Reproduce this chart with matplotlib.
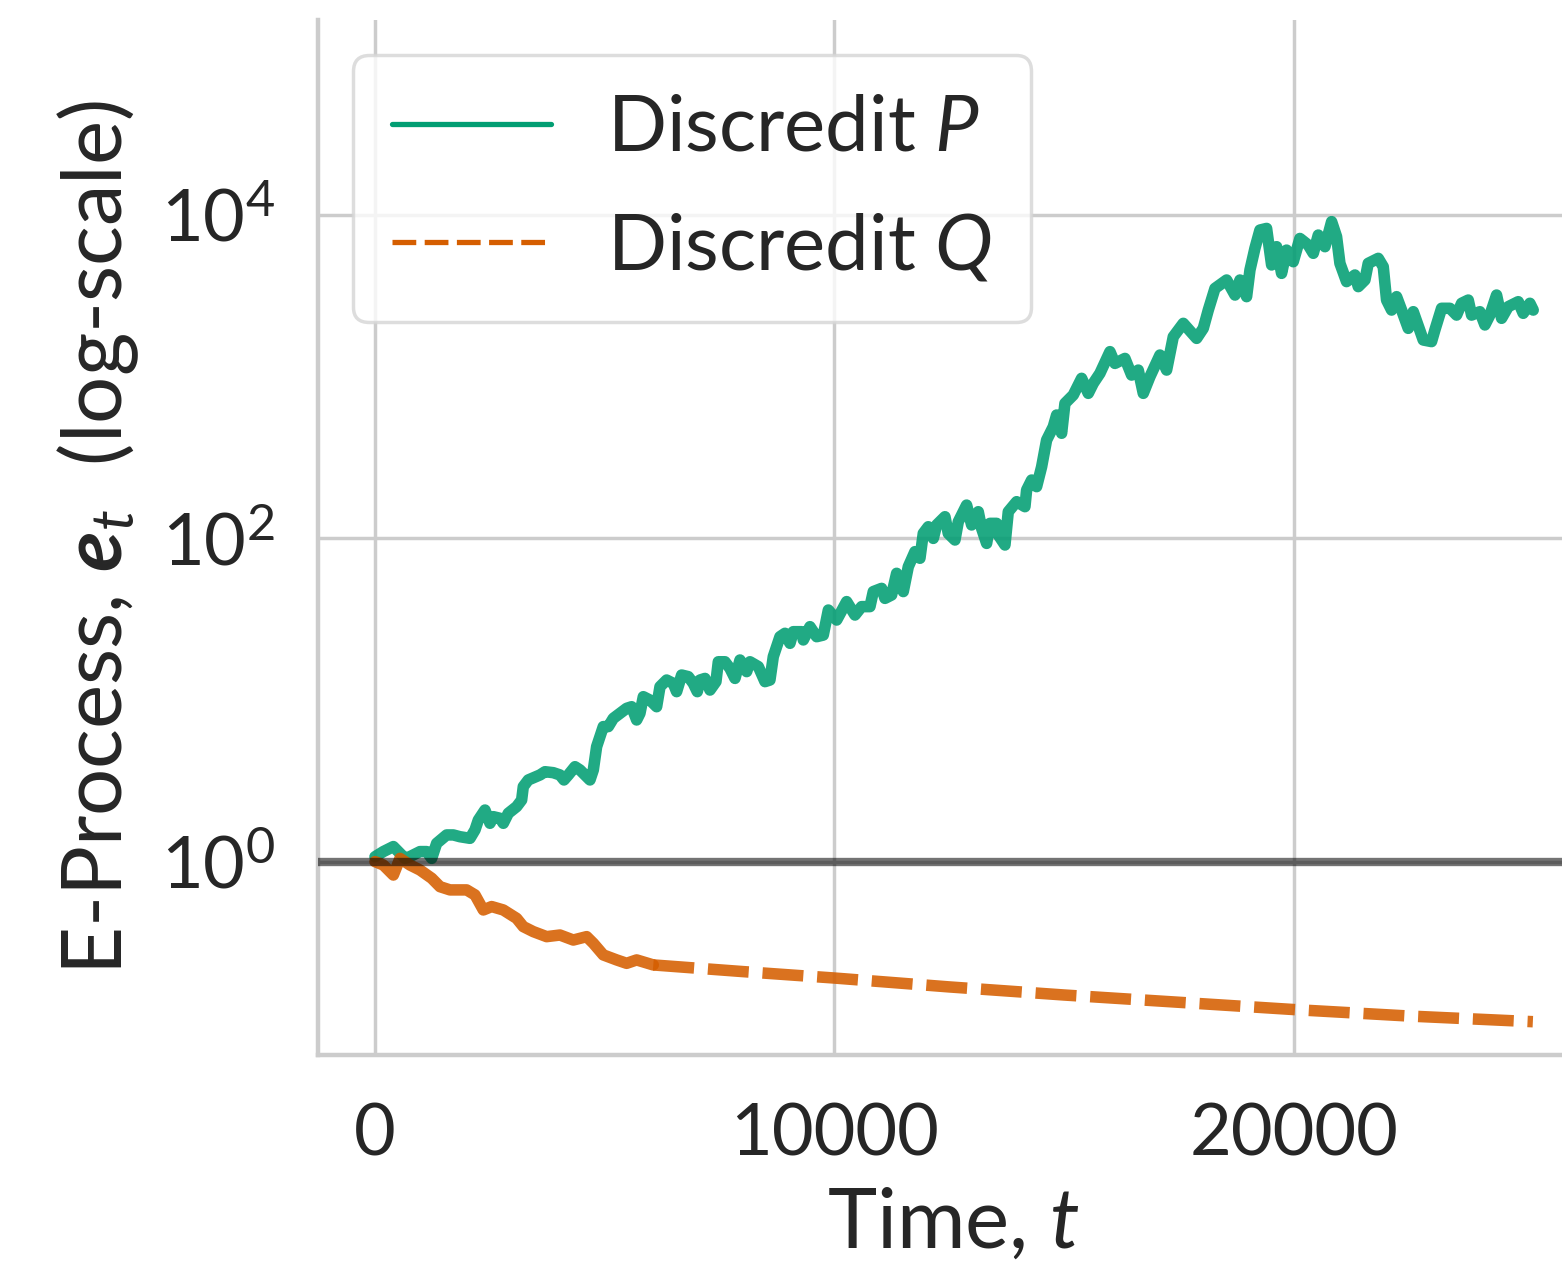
import numpy as np
import matplotlib.pyplot as plt
from matplotlib.lines import Line2D

# e-process for P (log10 values)
t_p = [0, 182, 400, 508, 653, 762, 980, 1125, 1234, 1342, 1560, 1705, 1850, 2068,
       2177, 2249, 2394, 2503, 2576, 2721, 2793, 2902, 3083, 3192, 3228, 3337, 3591,
       3700, 3881, 4026, 4113, 4208, 4353, 4461, 4679, 4752, 4824, 4969, 5078, 5187,
       5332, 5477, 5586, 5695, 5767, 5840, 5985, 6130, 6203, 6348, 6493, 6565, 6674,
       6819, 6928, 7015, 7073, 7182, 7291, 7421, 7472, 7617, 7726, 7835, 7944, 8089,
       8161, 8343, 8488, 8596,
       8669, 8814, 8923, 9032, 9104, 9286, 9322, 9467, 9612, 9757, 9867, 10048, 10265,
       10446, 10591, 10773, 10845, 11027, 11099, 11244, 11353, 11498, 11607, 11752,
       11861, 11933, 12042, 12151, 12224, 12405, 12477, 12623, 12695, 12876, 12985,
       13130, 13203, 13312, 13384, 13529, 13566, 13711, 13783, 13965, 14146, 14182,
       14291, 14400, 14509, 14617, 14763, 14835, 14944, 15016, 15198, 15379, 15524,
       15633,
       15778, 15996, 16104, 16322, 16467, 16612, 16721, 16866, 17084, 17229, 17374,
       17592, 17882, 18027, 18136, 18281, 18535, 18717, 18825, 18970, 19043, 19151,
       19260, 19405, 19514, 19623, 19731, 19840, 19985, 20130, 20312, 20421, 20530,
       20675, 20820, 20928, 21001, 21145, 21327, 21400, 21545, 21617, 21835, 21944,
       22016, 22125, 22234, 22343, 22488, 22597, 22814, 22995, 23068, 23213, 23395,
       23540, 23649, 23794, 23866, 24047, 24156, 24265, 24410, 24519, 24664, 24882,
       24990, 25135, 25208]
log_p = [0.03, 0.062, 0.093, 0.062, 0.020, 0.031, 0.062, 0.062, 0.020, 0.113, 0.165,
         0.165, 0.154, 0.144, 0.196, 0.257, 0.319, 0.237, 0.278, 0.268, 0.237, 0.299,
         0.340, 0.381, 0.464, 0.505, 0.536, 0.556, 0.550, 0.536, 0.505, 0.536, 0.587,
         0.567, 0.505, 0.567, 0.711, 0.835, 0.835, 0.886, 0.917, 0.948, 0.958, 0.876,
         0.917, 1.020, 0.999, 0.958, 1.082, 1.123, 1.102, 1.051, 1.154, 1.144, 1.102,
         1.051, 1.123, 1.133, 1.061, 1.113, 1.236, 1.236, 1.195, 1.133, 1.247, 1.175,
         1.236, 1.206, 1.113, 1.123,
         1.268, 1.391, 1.412, 1.350, 1.422, 1.422, 1.371, 1.453, 1.391, 1.401, 1.556,
         1.494, 1.608, 1.525, 1.577, 1.577, 1.670, 1.690, 1.628, 1.649, 1.783, 1.670,
         1.824, 1.917, 1.876, 2.030, 2.071, 1.999, 2.082, 2.133, 2.030, 1.989, 2.102,
         2.205, 2.082, 2.164, 2.061, 1.968, 2.092, 2.092, 2.020, 1.958, 2.164, 2.226,
         2.195, 2.298, 2.360, 2.319, 2.442, 2.607, 2.690, 2.762, 2.649, 2.834, 2.886,
         2.989, 2.896, 2.958,
         3.020, 3.154, 3.081, 3.112, 3.009, 3.040, 2.896, 2.999, 3.133, 3.040, 3.246,
         3.329, 3.236, 3.298, 3.411, 3.545, 3.597, 3.504, 3.597, 3.494, 3.659, 3.793,
         3.906, 3.916, 3.690, 3.803, 3.638, 3.782, 3.710, 3.854, 3.813, 3.762, 3.875,
         3.803, 3.958, 3.865, 3.700, 3.587, 3.628, 3.556, 3.597, 3.700, 3.731, 3.679,
         3.473, 3.411, 3.494, 3.411, 3.298, 3.401, 3.226, 3.216, 3.288, 3.422, 3.422,
         3.380, 3.453, 3.473, 3.380, 3.401, 3.319, 3.380, 3.504, 3.360, 3.432, 3.463,
         3.391, 3.453, 3.411]

# e-process for Q
t_q = [0, 182, 400, 544, 762, 980, 1234, 1415, 1633, 1995, 2177, 2358, 2539, 2793,
       3083, 3228, 3446, 3736, 4026, 4316, 4607, 4752, 4969, 5260, 5477, 5695, 6057,
       8000, 10000, 12500, 15000, 17500, 20000, 22500, 25200]
log_q = [0.0, -0.021, -0.083, 0.020, -0.021, -0.052, -0.103, -0.155, -0.175, -0.175,
         -0.206, -0.299, -0.278, -0.299, -0.351, -0.402, -0.433, -0.464, -0.454,
         -0.485, -0.464, -0.505, -0.577, -0.608, -0.629, -0.608, -0.639,
         -0.68, -0.72, -0.775, -0.825, -0.87, -0.915, -0.955, -0.99]

green = '#029e73'
orange = '#d55e00'
grey = '#cccccc'
ink = '#262626'

plt.rcParams['font.family'] = ['Lato', 'DejaVu Sans']
plt.rcParams['mathtext.fontset'] = 'custom'
plt.rcParams['mathtext.rm'] = 'Lato'
plt.rcParams['mathtext.it'] = 'Lato:italic'
plt.rcParams['mathtext.bf'] = 'Lato:bold'
plt.rcParams['mathtext.bfit'] = 'Lato:bold:italic'
plt.rcParams['text.color'] = ink
plt.rcParams['axes.labelcolor'] = ink
plt.rcParams['xtick.color'] = ink
plt.rcParams['ytick.color'] = ink

fig = plt.figure(figsize=(15.62, 12.67), dpi=100)
ax = fig.add_axes([318 / 1562, (1267 - 1055) / 1267, (1588 - 318) / 1562, (1055 - 20) / 1267])

tp = np.array(t_p)
ep = 10 ** np.array(log_p)
tq = np.array(t_q)
eq = 10 ** np.array(log_q)

lw = 8.3
ax.plot(tp, ep, color=green, lw=lw, alpha=0.88, solid_joinstyle='round',
        solid_capstyle='round', zorder=3)
k = t_q.index(6057)
ax.plot(tq[:k + 1], eq[:k + 1], color=orange, lw=lw, alpha=0.88, solid_joinstyle='round',
        solid_capstyle='round', zorder=3)
ax.plot(tq[k:], eq[k:], color=orange, lw=lw, alpha=0.88, dashes=(3.55, 1.2), zorder=3)
ax.axhline(1, color='black', alpha=0.55, lw=6, zorder=4)

ax.set_yscale('log')
ax.set_xlim(-1240, 26400)
ax.set_ylim(10 ** -1.196, 10 ** 5.205)
ax.set_xticks([0, 10000, 20000])
ax.set_yticks([1, 1e2, 1e4])
ax.yaxis.set_minor_locator(plt.NullLocator())

ax.grid(True, color=grey, lw=2.5)
ax.set_axisbelow(True)
for s in ['top', 'right']:
    ax.spines[s].set_visible(False)
for s in ['left', 'bottom']:
    ax.spines[s].set_color(grey)
    ax.spines[s].set_linewidth(3.2)
ax.tick_params(axis='both', length=0, labelsize=52)
ax.tick_params(axis='x', pad=34)
ax.tick_params(axis='y', pad=31)

ax.set_xlabel('Time, $t$', fontsize=60, labelpad=14)
ax.set_ylabel(r'E-Process, $\mathbfit{e}_t$  (log-scale)', fontsize=60, labelpad=14)

handles = [Line2D([], [], color=green, lw=3.8, solid_capstyle='round'),
           Line2D([], [], color=orange, lw=3.8, dashes=(4.5, 1.6))]
leg = ax.legend(handles, ['Discredit $P$', 'Discredit $Q$'], loc='upper left',
                fontsize=56, handlelength=2.05, handletextpad=0.72, labelspacing=0.6,
                framealpha=0.8, edgecolor='#d5d5d5', fancybox=True,
                borderpad=0.5, borderaxespad=0.45)
leg.get_frame().set_linewidth(2.5)

fig.savefig('out.png', dpi=100)
